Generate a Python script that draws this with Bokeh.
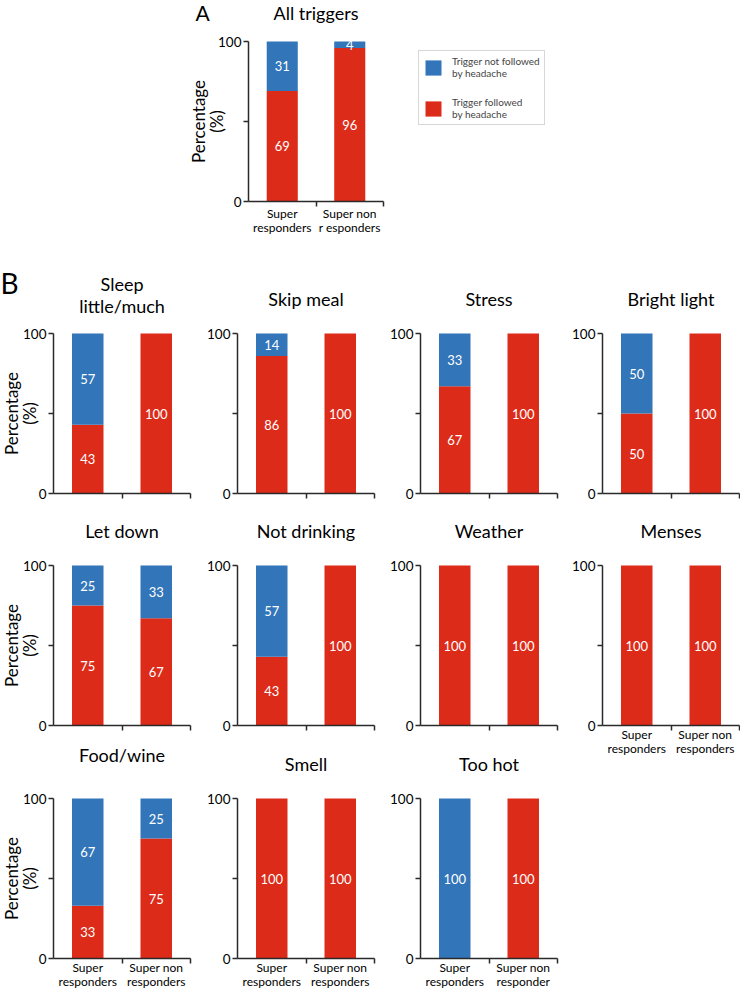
import math
from bokeh.plotting import figure
from bokeh.models import Range1d, FixedTicker, Label, Legend, LegendItem, ColumnDataSource
from bokeh.layouts import column, row
from bokeh.embed import file_html
from bokeh.resources import INLINE
from bokeh.core.properties import value

# ---------------- data ----------------
groups = ["Super responders", "Super non responders"]

# Panel A: all triggers (% of triggers)
all_followed = [69, 96]
all_not_followed = [31, 4]

# Panel B: per trigger
triggers = ["Sleep\nlittle/much", "Skip meal", "Stress", "Bright light",
            "Let down", "Not drinking", "Weather", "Menses",
            "Food/wine", "Smell", "Too hot"]
followed_super = [43, 86, 67, 50, 75, 43, 100, 100, 33, 100, 0]
not_followed_super = [57, 14, 33, 50, 25, 57, 0, 0, 67, 0, 100]
followed_nonsuper = [100, 100, 100, 100, 67, 100, 100, 100, 75, 100, 100]
not_followed_nonsuper = [0, 0, 0, 0, 33, 0, 0, 0, 25, 0, 0]

tick_labels = ["Super\nresponders", "Super non\nresponders"]
tick_labels_a = ["Super\nresponders", "Super non\nr esponders"]
tick_labels_too_hot = ["Super\nresponders", "Super non\nresponder"]
y_ticks = [0, 50, 100]
y_tick_labels = ["0", "", "100"]
legend_labels = ["Trigger not followed\nby headache", "Trigger followed\nby headache"]
y_label = "Percentage\n(%)"

# ---------------- style / geometry ----------------
FONT = "Lato"
BLUE = "#3275B9"
RED = "#DD2B1A"
AXIS = "#2a2a2a"
PLOT_H = 160          # pixel height of 0..100
BAR_W = 0.46


def overrides(ticks, labels):
    d = {}
    for t, l in zip(ticks, labels):
        d[t] = l
        d[str(t)] = l
    return d


def add_text(p, text, x, y, size, align="center", angle=0.0, line_height=1.2):
    p.add_layout(Label(x=x, y=y, x_units="screen", y_units="screen", text=text,
                       text_align=align, text_baseline="middle", angle=angle,
                       text_line_height=line_height,
                       text_font=FONT, text_font_size=size, text_color="black"))


def make_cell(W, H, x0, y0, wp, followed, not_followed, xlabels, label_standoff):
    """Canvas W x H; axes origin at canvas pixel (x0, y0); x span 0..2 is wp px wide."""
    ux = wp / 2.0
    uy = PLOT_H / 100.0
    p = figure(width=W, height=H,
               x_range=Range1d(-x0 / ux, (W - x0) / ux),
               y_range=Range1d(-(H - y0) / uy, y0 / uy),
               output_backend="svg", toolbar_location=None, min_border=0,
               outline_line_color=None)
    p.grid.visible = False

    xs = [0.5, 1.5]
    tops = [a + b for a, b in zip(followed, not_followed)]
    src = ColumnDataSource(dict(x=xs, f=followed, t=tops))
    red = p.vbar(x="x", bottom=0, top="f", width=BAR_W, fill_color=RED,
                 line_color=None, source=src)
    blue = p.vbar(x="x", bottom="f", top="t", width=BAR_W, fill_color=BLUE,
                  line_color=None, source=src)
    lx, ly, lt = [], [], []
    for x, f, n in zip(xs, followed, not_followed):
        if f > 0:
            lx.append(x); ly.append(f / 2); lt.append(str(f))
        if n > 0:
            lx.append(x); ly.append(f + n / 2); lt.append(str(n))
    p.text(x=lx, y=ly, text=lt, text_color="white", text_align="center",
           text_baseline="middle", text_font=value(FONT), text_font_size="13px")

    xa = p.xaxis[0]
    xa.fixed_location = 0
    xa.bounds = (0, 2)
    xa.ticker = FixedTicker(ticks=[0.5, 1.5], minor_ticks=[1, 2])
    xa.major_tick_out = 0
    xa.major_tick_in = 0
    xa.minor_tick_out = 5
    xa.minor_tick_in = 0
    xa.minor_tick_line_color = AXIS
    xa.minor_tick_line_width = 1.5
    xa.axis_line_color = AXIS
    xa.axis_line_width = 1.5
    xa.major_label_text_font = FONT
    xa.major_label_text_font_size = "12px"
    xa.major_label_text_line_height = 0.95
    xa.major_label_text_color = "black"
    xa.major_label_standoff = label_standoff
    xa.major_label_overrides = overrides([0.5, 1.5], xlabels if xlabels else ["", ""])

    ya = p.yaxis[0]
    ya.fixed_location = 0
    ya.bounds = (0, 100)
    ya.ticker = FixedTicker(ticks=y_ticks, minor_ticks=[])
    ya.major_label_overrides = overrides(y_ticks, y_tick_labels)
    ya.major_tick_out = 5
    ya.major_tick_in = 0
    ya.minor_tick_out = 0
    ya.minor_tick_in = 0
    ya.major_tick_line_color = AXIS
    ya.major_tick_line_width = 1.5
    ya.axis_line_color = AXIS
    ya.axis_line_width = 1.5
    ya.major_label_text_font = FONT
    ya.major_label_text_font_size = "13.5px"
    ya.major_label_text_color = "black"
    ya.major_label_standoff = 2
    return p, red, blue


def add_title(p, text, H, x_center, y_center):
    lines = text.split("\n")
    n = len(lines)
    for k, line in enumerate(lines):
        yc = y_center + (k - (n - 1) / 2) * 22
        add_text(p, line, x_center, H - yc, "18px")


def add_ylabel(p, H, x_center, y_center):
    add_text(p, y_label, x_center, H - y_center, "17px", angle=math.pi / 2, line_height=0.85)


# ---------------- panel A ----------------
WA, HA, XA, YA, WPA = 740, 247, 248, 201, 135
pa, red_a, blue_a = make_cell(WA, HA, XA, YA, WPA, all_followed, all_not_followed,
                              tick_labels_a, -1)
add_title(pa, "All triggers", HA, XA + WPA / 2, 12)
add_text(pa, "A", 195, HA - 12, "21px", align="left")
add_ylabel(pa, HA, 207, YA - PLOT_H / 2)
legend = Legend(items=[LegendItem(label=legend_labels[0], renderers=[blue_a]),
                       LegendItem(label=legend_labels[1], renderers=[red_a])],
                location=(418, HA - 125))
legend.border_line_color = "#B0B0B0"
legend.border_line_width = 1
legend.glyph_width = 20
legend.glyph_height = 19
legend.label_text_font = FONT
legend.label_text_font_size = "10px"
legend.label_text_line_height = 1.05
legend.label_standoff = 9
legend.padding = 4
legend.spacing = 17
legend.margin = 0
pa.add_layout(legend)

# ---------------- panel B ----------------
col_left = [0, 195, 380, 565]
col_width = [195, 185, 185, 175]
axis_x = [53, 237, 420, 602]
row_top = [247, 501, 733]
row_height = [254, 232, 258]
axis_y = [493, 725, 958]
WP = 137
show_x = {7: tick_labels, 8: tick_labels, 9: tick_labels, 10: tick_labels_too_hot}
title_gap = {0: 39, 8: 44}

cols = [[], [], [], []]
for i, name in enumerate(triggers):
    r, c = divmod(i, 4)
    W = col_width[c]
    H = row_height[r]
    if i == 7:                     # Menses: last chart of its column, keeps its labels
        H = row_height[1] + row_height[2]
    x0 = axis_x[c] - col_left[c]
    y0 = axis_y[r] - row_top[r]
    p, _, _ = make_cell(W, H, x0, y0, WP,
                        [followed_super[i], followed_nonsuper[i]],
                        [not_followed_super[i], not_followed_nonsuper[i]],
                        show_x.get(i), -4)
    add_title(p, name, H, x0 + WP / 2, y0 - PLOT_H - title_gap.get(i, 35))
    if c == 0:
        add_ylabel(p, H, 20, y0 - PLOT_H / 2)
    if i == 0:
        add_text(p, "B", 0, H - 35, "28px", align="left")
    cols[c].append(p)

layout = column(pa, row(*[column(*cl) for cl in cols]))

open("out.html", "w").write(file_html(layout, INLINE))
